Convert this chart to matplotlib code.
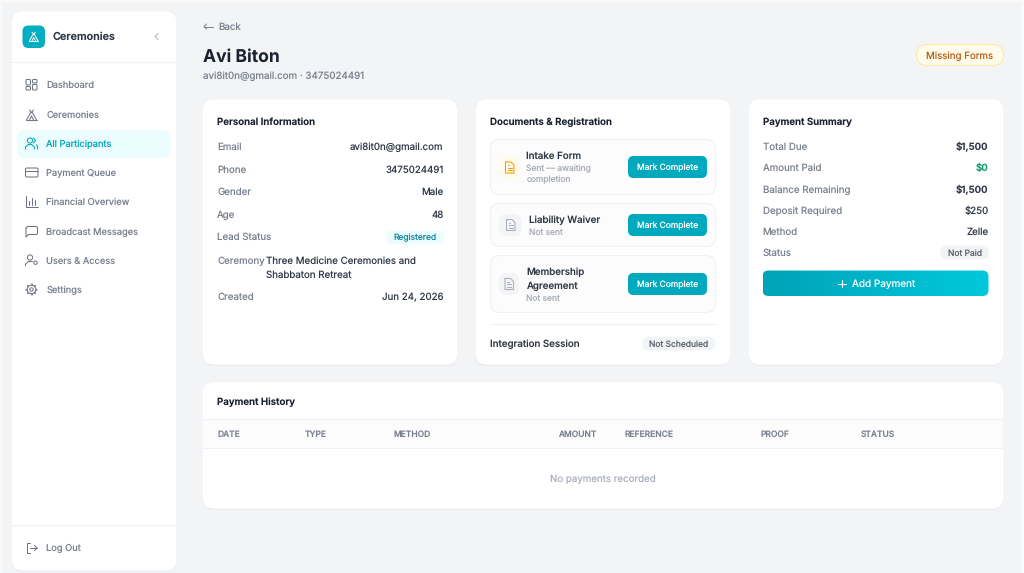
import numpy as np
import matplotlib
matplotlib.use("Agg")
import matplotlib.pyplot as plt
from matplotlib.patches import FancyBboxPatch, Circle, Rectangle
from matplotlib.colors import LinearSegmentedColormap

plt.rcParams['font.family'] = ['Inter', 'DejaVu Sans']
plt.rcParams['text.hinting'] = 'no_hinting'

# page text
nav_items = ["Dashboard", "Ceremonies", "All Participants", "Payment Queue", "Financial Overview",
             "Broadcast Messages", "Users & Access", "Settings"]
person_labels = ["Email", "Phone", "Gender", "Age", "Lead Status"]
person_values = ["avi8it0n@gmail.com", "3475024491", "Male", "48"]
ceremony_lines = ["Three Medicine Ceremonies and", "Shabbaton Retreat"]
pay_labels = ["Total Due", "Amount Paid", "Balance Remaining", "Deposit Required", "Method", "Status"]
pay_values = ["$1,500", "$0", "$1,500", "$250", "Zelle"]
table_cols = ["DATE", "TYPE", "METHOD", "AMOUNT", "REFERENCE", "PROOF", "STATUS"]

DARK = "#1a2230"
TEXT = "#2f3947"
GREY = "#7a818e"
LIGHT = "#a9afb9"
TEAL = "#00a9bd"
LINE = "#f0f1f4"
ICON = "#6f7683"

fig = plt.figure(figsize=(10.24, 5.73), dpi=100, facecolor="#f3f4f6")
ax = fig.add_axes([0, 0, 1, 1])
ax.set_xlim(0, 1024)
ax.set_ylim(573, 0)
ax.axis("off")


def box(x, y, w, h, r, fc="white", ec="none", lw=0.8, z=2):
    p = FancyBboxPatch((x, y), w, h, boxstyle=f"round,pad=0,rounding_size={r}",
                       fc=fc, ec=ec, lw=lw, zorder=z)
    ax.add_patch(p)
    return p


def card(x, y, w, h, r=11):
    # soft shadow then the white card
    box(x - 0.5, y + 0.5, w + 1, h + 1, r, fc="#eceef1", z=1.5)
    return box(x, y, w, h, r)


def txt(x, y, s, size=7.0, color=GREY, ha="left", weight="normal"):
    ax.text(x, y, s, fontsize=size, color=color, ha=ha, va="center_baseline", fontweight=weight, zorder=6)


def ln(xs, ys, color=ICON, lw=0.75):
    ax.plot(xs, ys, color=color, lw=lw, zorder=6, solid_capstyle="round", solid_joinstyle="round")


def outline(x, y, w, h, r, color=ICON, lw=0.75):
    box(x, y, w, h, r, fc="none", ec=color, lw=lw, z=6)


def ring(x, y, r, color=ICON, lw=0.75):
    ax.add_patch(Circle((x, y), r, fc="none", ec=color, lw=lw, zorder=6))


def tent(x, y, color=ICON, lw=0.75, s=1.0):
    ln([x - 5.5 * s, x + 5.5 * s], [y + 5 * s, y + 5 * s], color, lw)
    ln([x - 5 * s, x - 0.8 * s, x + 0.8 * s, x + 5 * s], [y + 5 * s, y - 2.5 * s, y - 2.5 * s, y + 5 * s], color, lw)
    ln([x - 2 * s, x, x + 2 * s], [y - 5 * s, y - 2.5 * s, y - 5 * s], color, lw)
    ln([x - 2 * s, x, x + 2 * s], [y + 5 * s, y + 1 * s, y + 5 * s], color, lw)


def doc(x, y, color, lw=0.75):
    ln([x - 4, x + 1.5, x + 4.5, x + 4.5, x - 4, x - 4], [y - 5.5, y - 5.5, y - 2.5, y + 5.5, y + 5.5, y - 5.5],
       color, lw)
    ln([x - 2, x + 2.2], [y, y], color, lw)
    ln([x - 2, x + 2.2], [y + 2.5, y + 2.5], color, lw)
    ln([x - 2, x - 0.5], [y - 2.5, y - 2.5], color, lw)


# thin lighter frame around the screenshot
ax.add_patch(Rectangle((0, 0), 1024, 1.5, fc="#fafafb", ec="none", zorder=1))
ax.add_patch(Rectangle((0, 0), 1.5, 573, fc="#fafafb", ec="none", zorder=1))
ax.add_patch(Rectangle((1020.5, 0), 3.5, 573, fc="#fafafb", ec="none", zorder=1))

# sidebar
card(11.5, 11.5, 165, 559)
ax.plot([11.5, 176.5], [62, 62], color=LINE, lw=0.8, zorder=3)
ax.plot([11.5, 176.5], [525, 525], color=LINE, lw=0.8, zorder=3)
box(22.5, 25.5, 22.5, 22.5, 6, fc="#00adc1")
tent(33.7, 36.5, color="white", lw=0.7, s=0.85)
txt(52.5, 36, "Ceremonies", 7.75, TEXT, weight="semibold")
ln([158, 155, 158], [33.5, 36.5, 39.5], LIGHT, 0.7)

box(17, 130, 154, 28, 8, fc="#ecfdff")
nav_y = [84.5, 114.5, 143.5, 172.5, 201.5, 231.5, 260.5, 289.5]
for i, name in enumerate(nav_items):
    txt(46.5, nav_y[i], name, 6.7, "#00a9bd" if i == 2 else GREY)
x0 = 31.5
y = nav_y[0]
outline(x0 - 5.5, y - 5, 4.5, 5.5, 1)
outline(x0 + 1, y - 5, 4.5, 3.5, 1)
outline(x0 - 5.5, y + 2, 4.5, 3.5, 1)
outline(x0 + 1, y - 0, 4.5, 5.5, 1)
tent(x0, nav_y[1] + 0.5)
y = nav_y[2]
ring(x0 - 1.5, y - 3, 2.6, TEAL)
ln([x0 - 6, x0 - 6, x0 - 3, x0 + 0, x0 + 3, x0 + 3], [y + 5.5, y + 3.5, y + 1, y + 1, y + 3.5, y + 5.5], TEAL)
ln([x0 + 2, x0 + 4, x0 + 2], [y - 5.5, y - 3, y - 0.5], TEAL)
ln([x0 + 5, x0 + 6, x0 + 6], [y + 1.2, y + 3, y + 5.5], TEAL)
y = nav_y[3]
outline(x0 - 6, y - 4.5, 12.5, 9, 1.5)
ln([x0 - 6, x0 + 6.5], [y - 1.5, y - 1.5])
y = nav_y[4]
ln([x0 - 5.5, x0 - 5.5, x0 + 6], [y - 5.5, y + 5.5, y + 5.5])
ln([x0 - 2.5, x0 - 2.5], [y - 1, y + 3])
ln([x0 + 0.5, x0 + 0.5], [y - 4, y + 3])
ln([x0 + 3.5, x0 + 3.5], [y - 1.5, y + 3])
y = nav_y[5]
ln([x0 - 5.5, x0 - 4, x0 + 5, x0 + 6, x0 + 6, x0 + 5, x0 - 3, x0 - 5.5, x0 - 5.5],
   [y - 3.5, y - 5, y - 5, y - 4, y + 2, y + 3, y + 3, y + 5.5, y - 3.5])
y = nav_y[6]
ring(x0 - 1.5, y - 3, 2.6)
ln([x0 - 6, x0 - 6, x0 - 3, x0 + 1], [y + 5.5, y + 3.5, y + 1, y + 1])
ring(x0 + 4, y + 2.2, 1.7)
y = nav_y[7]
ring(x0, y, 1.7)
ring(x0, y, 4.3)
for a in np.arange(0, 360, 45):
    ca, sa = np.cos(np.radians(a)), np.sin(np.radians(a))
    ln([x0 + 4.3 * ca, x0 + 5.4 * ca], [y + 4.3 * sa, y + 5.4 * sa], ICON, 1.1)

# log out
txt(46.5, 547.5, "Log Out", 6.7, GREY)
ln([x0 - 2, x0 - 5, x0 - 5, x0 - 2], [542.5, 542.5, 553, 553])
ln([x0 - 2, x0 + 5.5], [548, 548])
ln([x0 + 3, x0 + 5.5, x0 + 3], [545.5, 548, 550.5])

# header
ln([204, 213], [26.5, 26.5], GREY)
ln([206.5, 204, 206.5], [24, 26.5, 29], GREY)
txt(218, 26.2, "Back", 7.0, GREY)
txt(202.7, 55, "Avi Biton", 12.6, DARK, weight="bold")
txt(202.7, 75.3, "avi8it0n@gmail.com · 3475024491", 7.05, GREY)
box(916.5, 44.5, 87, 21, 10.5, fc="#fffbeb", ec="#fde9a8", lw=0.8)
txt(960, 55.2, "Missing Forms", 7.0, "#b8601c", ha="center")

# personal information
card(202.5, 99.5, 255, 265)
txt(217.3, 121, "Personal Information", 7.0, DARK, weight="semibold")
row_y = [146.2, 168.8, 191.2, 214, 236.5]
for i, name in enumerate(person_labels):
    txt(217.3, row_y[i], name, 7.0, GREY)
for i, val in enumerate(person_values):
    txt(443.5, row_y[i], val, 7.0, TEXT, ha="right")
box(386, 230.5, 58, 14, 7, fc="#ecfdff")
txt(415, 237.3, "Registered", 6.1, "#1b8a9c", ha="center")
txt(217.3, 260, "Ceremony", 7.0, GREY)
txt(265.5, 260, ceremony_lines[0], 7.0, TEXT)
txt(265.5, 274, ceremony_lines[1], 7.0, TEXT)
txt(217.3, 296.5, "Created", 7.0, GREY)
txt(443.5, 296.5, "Jun 24, 2026", 7.0, TEXT, ha="right")

# documents
card(475.5, 99.5, 255, 265)
txt(490.3, 121, "Documents & Registration", 7.0, DARK, weight="semibold")
box(490.5, 139.5, 225, 55, 9, fc="#fcfcfd", ec=LINE)
box(490.5, 203.5, 225, 43, 9, fc="#fcfcfd", ec=LINE)
box(490.5, 255.5, 225, 57, 9, fc="#fcfcfd", ec=LINE)
box(499, 156, 21, 23, 9, fc="#fffbeb")
doc(509.5, 167.5, "#f59e0b")
box(499, 214, 22.5, 22, 8, fc="#f3f4f6")
doc(510.5, 225, LIGHT)
box(499, 273, 20, 22, 8, fc="#f3f4f6")
doc(509, 284, LIGHT)
txt(526.5, 155.3, "Intake Form", 7.0, TEXT, weight="medium")
txt(526.5, 168, "Sent — awaiting", 6.1, LIGHT)
txt(526.5, 179.3, "completion", 6.1, LIGHT)
txt(529, 219, "Liability Waiver", 7.0, TEXT, weight="medium")
txt(529, 231.5, "Not sent", 6.1, LIGHT)
txt(526.5, 271.3, "Membership", 7.0, TEXT, weight="medium")
txt(526.5, 285.3, "Agreement", 7.0, TEXT, weight="medium")
txt(526.5, 297.8, "Not sent", 6.1, LIGHT)
for by in [167, 225, 284]:
    box(628, by - 11, 79, 22, 5.5, fc=TEAL)
    txt(667.5, by, "Mark Complete", 6.1, "white", ha="center")
ax.plot([490.5, 715.5], [324, 324], color=LINE, lw=0.8, zorder=3)
txt(490.3, 343.2, "Integration Session", 7.0, TEXT, weight="medium")
box(642.5, 336.5, 73, 14, 7, fc="#f3f4f6")
txt(679, 343.2, "Not Scheduled", 6.1, "#5b6472", ha="center")

# payment summary
card(748.5, 99.5, 255, 265)
txt(762.6, 121, "Payment Summary", 7.0, DARK, weight="semibold")
pay_y = [146.2, 167.5, 188.8, 210, 231, 252.3]
for i, name in enumerate(pay_labels):
    txt(762.6, pay_y[i], name, 7.0, GREY)
for i, val in enumerate(pay_values):
    bold = i in (0, 1, 2)
    col = "#10a070" if i == 1 else TEXT
    txt(988.5, pay_y[i], val, 7.0, col, ha="right", weight="semibold" if bold else "normal")
box(940, 245.5, 49, 14, 7, fc="#f3f4f6")
txt(964.5, 252.3, "Not Paid", 6.1, "#5b6472", ha="center")

# gradient button
btn = box(762.5, 270.5, 226, 25.5, 6, fc="none", z=3)
grad = LinearSegmentedColormap.from_list("btn", ["#00a3b8", "#00c8dc"])
im = ax.imshow(np.linspace(0, 1, 256).reshape(1, -1), extent=(762.5, 988.5, 296, 270.5), cmap=grad,
               aspect="auto", zorder=3)
im.set_clip_path(btn)
ax.set_xlim(0, 1024)
ax.set_ylim(573, 0)
ln([838, 845.5], [283.5, 283.5], "white", 0.8)
ln([841.8, 841.8], [279.8, 287.2], "white", 0.8)
txt(852, 283.2, "Add Payment", 7.2, "white")

# payment history
card(202.5, 382.5, 801, 126)
txt(217.3, 401, "Payment History", 7.0, DARK, weight="semibold")
ax.plot([202.5, 1003.5], [419, 419], color=LINE, lw=0.8, zorder=3)
ax.plot([202.5, 1003.5], [448, 448], color=LINE, lw=0.8, zorder=3)
ax.add_patch(Rectangle((203, 419.5), 800, 28, fc="#fcfcfd", ec="none", zorder=2.5))
col_x = [217.3, 304.8, 393.3, 596.7, 624.8, 760.3, 860.3]
for i, name in enumerate(table_cols):
    txt(col_x[i], 433.7, name, 6.1, GREY, ha="right" if name == "AMOUNT" else "left", weight="medium")
txt(603, 478.3, "No payments recorded", 7.0, LIGHT, ha="center")

fig.savefig("out.png", dpi=100, facecolor=fig.get_facecolor())
